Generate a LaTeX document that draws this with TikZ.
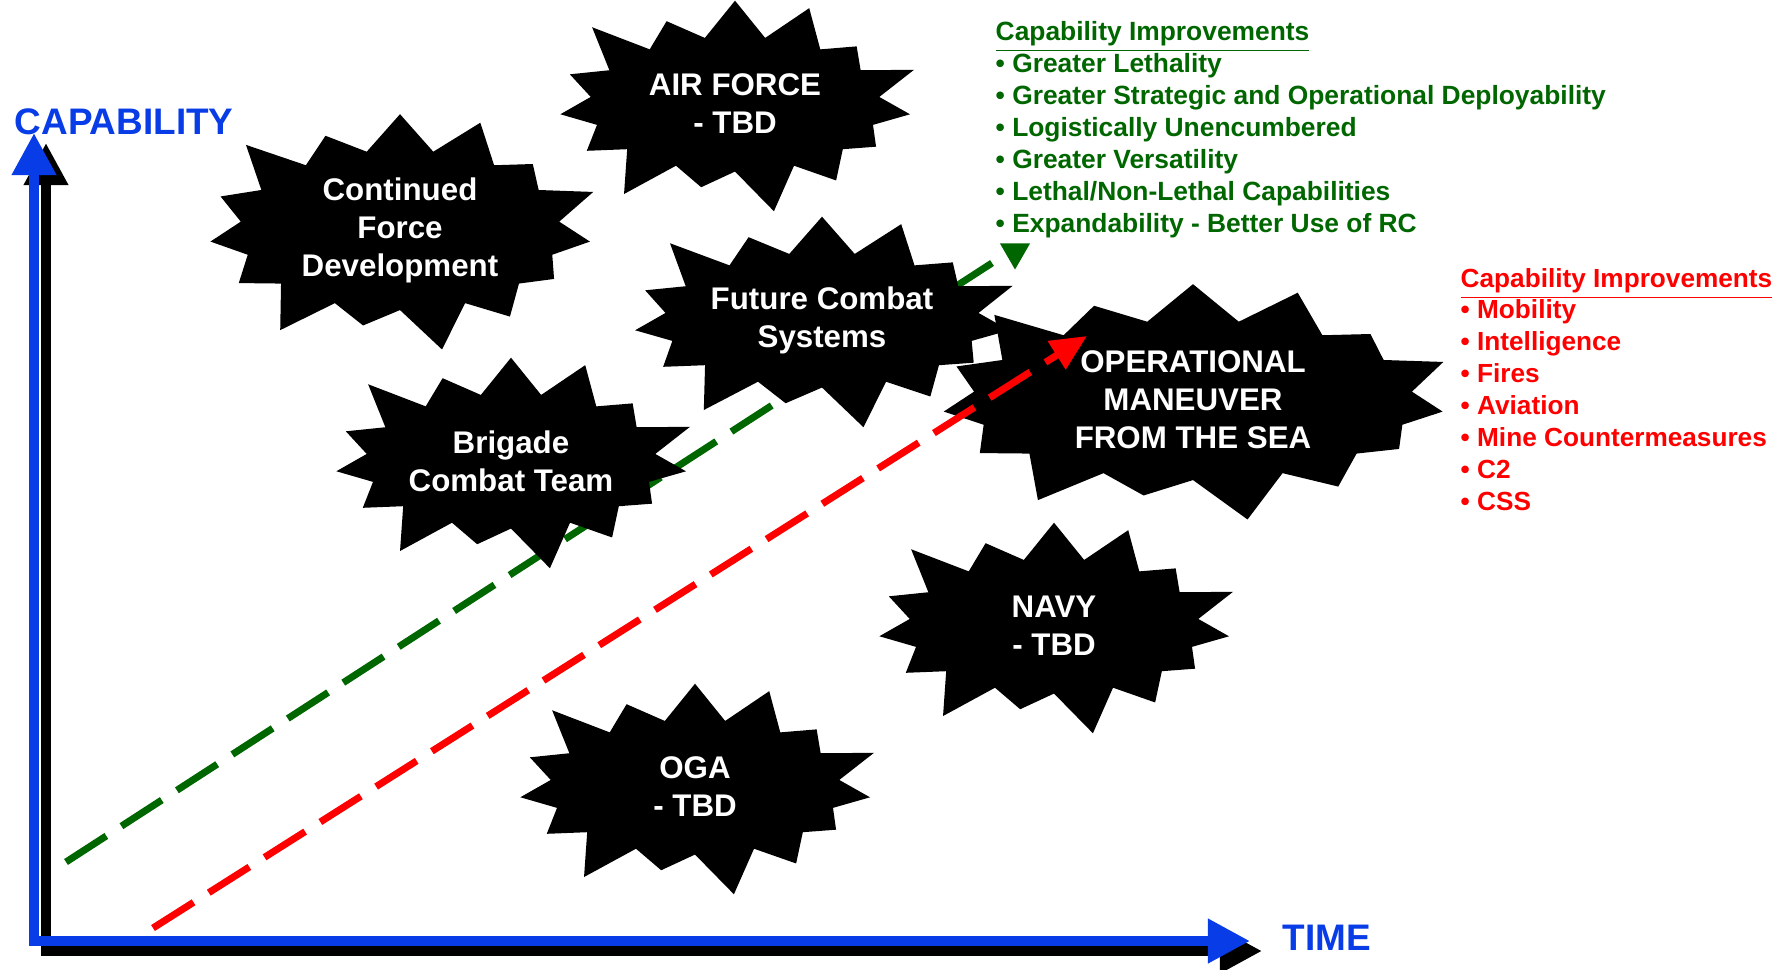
\documentclass[tikz,border=0pt]{standalone}
\usepackage{fontspec}
\setmainfont{Liberation Sans}
\usetikzlibrary{arrows.meta, shapes.symbols, shapes.geometric}
\definecolor{axisBlue}{RGB}{8,60,230}
\definecolor{armyGreen}{RGB}{0,102,0}
\definecolor{seaRed}{RGB}{255,0,0}
\tikzset{
  cap/burst/.style={starburst, fill=black, text=white, align=center,
    starburst points=15, starburst point height=5mm,
    minimum width=39mm, minimum height=23.5mm, inner sep=0pt,
    font=\bfseries\fontsize{8.9}{10.8}\selectfont},
  cap/axis/.style={line width=1mm,
    {Triangle[length=4.2mm,width=4.2mm]}-{Triangle[length=4.2mm,width=4.2mm]}},
  cap/axislbl/.style={anchor=base west, inner sep=0pt, text=axisBlue,
    font=\bfseries\fontsize{10.5}{12}\selectfont},
  cap/green/.style={anchor=base west, inner sep=0pt, text=armyGreen,
    font=\bfseries\fontsize{7.5}{9}\selectfont},
  cap/red/.style={anchor=base west, inner sep=0pt, text=seaRed,
    font=\bfseries\fontsize{7.45}{9}\selectfont},
  cap/trend/.style={line width=0.7mm, dash pattern=on 4.8mm off 1.8mm}
}

\begin{document}
\begin{tikzpicture}[x=0.01cm, y=-0.01cm]
  \useasboundingbox (0,0) rectangle (1791,969);

  % axes
  \coordinate (origin) at (34,941);
  \coordinate (ytip) at (34,133);
  \coordinate (xtip) at (1250,941);
  \draw[cap/axis, black] ([shift={(12,10)}]ytip) -- ([shift={(12,10)}]origin)
    -- ([shift={(12,10)}]xtip);
  \draw[cap/axis, axisBlue] (ytip) -- (origin) -- (xtip);
  \node[cap/axislbl] (ylbl) at (14,134) {CAPABILITY};
  \node[cap/axislbl] (xlbl) at (1282,950) {TIME};

  % green trend
  \coordinate (gstart) at (66,862);
  \coordinate (gend) at (992,263);
  \draw[cap/trend, armyGreen] (gstart) -- (gend);
  \node[regular polygon, regular polygon sides=3, shape border rotate=180,
    fill=armyGreen, minimum size=3.5mm, inner sep=0pt] (gtip) at (1015,252) {};

  % bursts
  \node[cap/burst, minimum width=42mm, minimum height=26mm] (cfd) at (400,230)
    {Continued\\Force\\Development};
  \node[cap/burst] (af) at (735,104) {AIR FORCE\\- TBD};
  \node[cap/burst] (fcs) at (822,320) {Future Combat\\Systems};
  \node[cap/burst] (bct) at (511,461) {Brigade\\Combat Team};
  \node[cap/burst, minimum width=54mm, minimum height=26mm] (omfts) at (1193,400)
    {OPERATIONAL\\MANEUVER\\FROM THE SEA};
  \node[cap/burst] (navy) at (1054,626) {NAVY\\- TBD};
  \node[cap/burst] (oga) at (695,787) {OGA\\- TBD};

  % red trend
  \coordinate (rstart) at (153,928);
  \coordinate (rend) at (1087,336);
  \draw[cap/trend, seaRed, -{Triangle[length=3.6mm,width=3.2mm]}] (rstart) -- (rend);

  % improvement lists
  \node[cap/green] (ghead) at (995,40) {\underline{Capability Improvements}};
  \foreach \txt [count=\i from 0] in {Greater Lethality,
      Greater Strategic and Operational Deployability,
      Logistically Unencumbered, Greater Versatility,
      Lethal/Non-Lethal Capabilities, Expandability - Better Use of RC}
    \node[cap/green] (g\i) at (995,{72+32*\i}) {\textbullet\ \txt};

  \node[cap/red] (rhead) at (1460,287) {\underline{Capability Improvements}};
  \foreach \txt [count=\i from 0] in {Mobility, Intelligence, Fires, Aviation,
      Mine Countermeasures, C2, CSS}
    \node[cap/red] (r\i) at (1460,{318+32*\i}) {\textbullet\ \txt};
\end{tikzpicture}
\end{document}
